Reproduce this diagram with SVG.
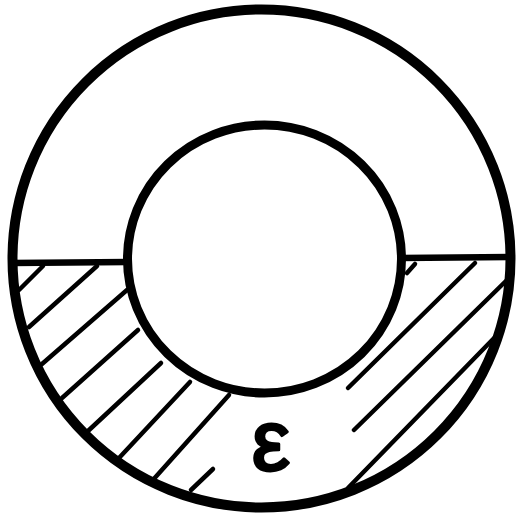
<svg xmlns="http://www.w3.org/2000/svg" width="518" height="517" viewBox="0 0 518 517">
<style>
.c{fill:none;stroke:#000}
.h{stroke:#000;stroke-width:4.5;stroke-linecap:round}
.lbl{font-family:"Liberation Sans","DejaVu Sans",sans-serif;fill:#000;stroke:#000;stroke-width:3;stroke-linejoin:round}
</style>
<rect width="518" height="517" fill="#fff"/>
<g id="outer"><circle class="c" cx="261.5" cy="258.5" r="249" stroke-width="10"/></g>
<g id="inner"><ellipse class="c" cx="264.5" cy="259" rx="137" ry="134" stroke-width="9"/></g>
<g id="level">
<line x1="12" y1="263" x2="128" y2="262" stroke="#000" stroke-width="6.5"/>
<line x1="401" y1="258" x2="511" y2="257" stroke="#000" stroke-width="6.5"/>
</g>
<g id="hatch">
<line class="h" x1="43" y1="266" x2="19" y2="290"/>
<line class="h" x1="97" y1="266" x2="29" y2="327"/>
<line class="h" x1="127" y1="290" x2="42" y2="364"/>
<line class="h" x1="138" y1="330" x2="62" y2="398"/>
<line class="h" x1="161" y1="363" x2="88" y2="431"/>
<line class="h" x1="190" y1="382" x2="119" y2="458"/>
<line class="h" x1="229" y1="395" x2="152" y2="481"/>
<line class="h" x1="213" y1="469" x2="191" y2="490"/>
<line class="h" x1="407" y1="273" x2="415" y2="264"/>
<line class="h" x1="475" y1="263" x2="348" y2="388"/>
<line class="h" x1="508" y1="279" x2="354" y2="430"/>
<line class="h" x1="499" y1="333" x2="348" y2="488"/>
</g>
<g id="label"><text class="lbl" x="271" y="470" font-size="86" text-anchor="middle">ε</text></g>
</svg>
